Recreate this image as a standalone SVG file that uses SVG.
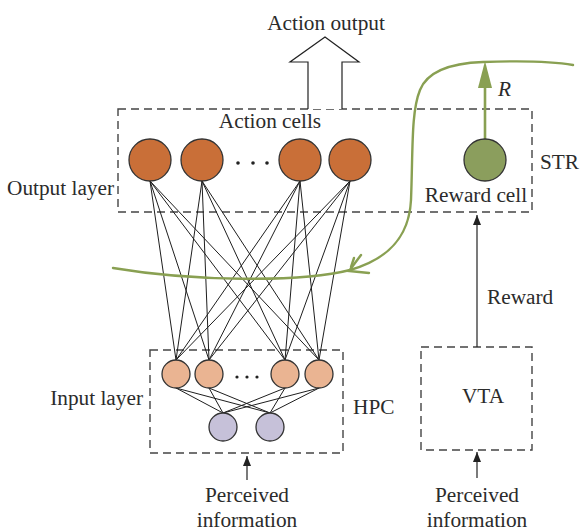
<svg xmlns="http://www.w3.org/2000/svg" width="580" height="531" viewBox="0 0 580 531">
  <style>
    text { font-family: "Liberation Serif", "Times New Roman", serif; font-size: 21.3px; fill: #2b2b2b; }
    .mid { text-anchor: middle; }
    .end { text-anchor: end; }
    .box { fill: none; stroke: #444; stroke-width: 1.4; stroke-dasharray: 8 5; }
    .link { stroke: #1e1e1e; stroke-width: 1; fill: none; }
    .cell { stroke: #333; stroke-width: 1.3; }
    .action { fill: #c96f38; }
    .input { fill: #eab492; }
    .sensor { fill: #c6c1d9; }
    .reward { fill: #8b9e5d; }
    .dot { fill: #222; }
    .arrow { stroke: #222; stroke-width: 1.2; fill: none; }
    .green { stroke: #89a052; stroke-width: 2.4; fill: none; stroke-linecap: round; }
  </style>
  <defs>
    <marker id="tip" viewBox="0 0 10 10" refX="10" refY="5" markerWidth="10" markerHeight="10" markerUnits="userSpaceOnUse" orient="auto">
      <path d="M0,1 L10,5 L0,9 Z" fill="#222"/>
    </marker>
  </defs>

  <!-- regions -->
  <g id="str-region">
    <rect class="box" x="118" y="109" width="414" height="103"/>
    <text x="540" y="169">STR</text>
    <text x="7" y="195">Output layer</text>
  </g>
  <g id="hpc-region">
    <rect class="box" x="150" y="350" width="193" height="103"/>
    <text x="143" y="405" class="end">Input layer</text>
    <text x="353" y="414">HPC</text>
  </g>
  <g id="vta">
    <rect class="box" x="421" y="347" width="111" height="103"/>
    <text x="483" y="403" class="mid">VTA</text>
  </g>

  <!-- connectors -->
  <g id="connectors">
    <!-- input layer to action cells -->
    <g class="link">
      <path d="M150,181 L176,360 M150,181 L209,360 M150,181 L285,360 M150,181 L319,360"/>
      <path d="M202,181 L176,360 M202,181 L209,360 M202,181 L285,360 M202,181 L319,360"/>
      <path d="M300,181 L176,360 M300,181 L209,360 M300,181 L285,360 M300,181 L319,360"/>
      <path d="M350,181 L176,360 M350,181 L209,360 M350,181 L285,360 M350,181 L319,360"/>
      <!-- sensory cells to input layer -->
      <path d="M223,413 L176,388 M223,413 L209,388 M223,413 L285,388 M223,413 L319,388"/>
      <path d="M270,413 L176,388 M270,413 L209,388 M270,413 L285,388 M270,413 L319,388"/>
    </g>
    <!-- reward signal VTA -> reward cell -->
    <line class="arrow" x1="477" y1="347" x2="477" y2="215" marker-end="url(#tip)"/>
    <text x="487" y="304">Reward</text>
    <!-- perceived information inputs -->
    <line class="arrow" x1="247" y1="480" x2="247" y2="456" marker-end="url(#tip)"/>
    <line class="arrow" x1="477" y1="478" x2="477" y2="452" marker-end="url(#tip)"/>
    <!-- action output arrow -->
    <polyline points="308,109 308,62 290,62 325,37 359,62 342,62 342,109" fill="#fff" stroke="#222" stroke-width="1.2"/>
    <text x="326" y="30" class="mid">Action output</text>
    <!-- reinforcement signal R -->
    <line x1="485" y1="139" x2="485" y2="86" stroke="#89a052" stroke-width="2.6"/>
    <path d="M485,61 L492,88 L478,88 Z" fill="#89a052"/>
    <text x="498" y="96" font-style="italic">R</text>
    <!-- feedback loop curve -->
    <path class="green" d="M573,65 C545,60 510,61 483,62 C455,63 428,70 420,90 C411,112 413,150 411,200 C409,240 385,260 350,270 C300,283 190,281 113,268"/>
    <path class="green" d="M361,255 L349,271 L369,273"/>
    <path class="green" d="M354,258 L351,267"/>
  </g>

  <!-- action cells -->
  <g id="action-cells">
    <text x="270" y="128" class="mid">Action cells</text>
    <circle class="cell action" cx="150" cy="160" r="21"/>
    <circle class="cell action" cx="202" cy="160" r="21"/>
    <circle class="cell action" cx="300" cy="160" r="21"/>
    <circle class="cell action" cx="350" cy="160" r="21"/>
    <circle class="dot" cx="238" cy="163" r="1.8"/>
    <circle class="dot" cx="253" cy="163" r="1.8"/>
    <circle class="dot" cx="267" cy="163" r="1.8"/>
  </g>

  <!-- reward cell -->
  <g id="reward-cell">
    <circle class="cell reward" cx="485" cy="160" r="21"/>
    <text x="476" y="202" class="mid">Reward cell</text>
  </g>

  <!-- input layer cells -->
  <g id="input-cells">
    <circle class="cell input" cx="176" cy="374" r="14"/>
    <circle class="cell input" cx="209" cy="374" r="14"/>
    <circle class="cell input" cx="285" cy="374" r="14"/>
    <circle class="cell input" cx="319" cy="374" r="14"/>
    <circle class="dot" cx="237" cy="377" r="1.6"/>
    <circle class="dot" cx="247" cy="377" r="1.6"/>
    <circle class="dot" cx="257" cy="377" r="1.6"/>
  </g>

  <!-- sensory cells -->
  <g id="sensory-cells">
    <circle class="cell sensor" cx="223" cy="427" r="14"/>
    <circle class="cell sensor" cx="270" cy="427" r="14"/>
  </g>

  <!-- input labels -->
  <g id="hpc-input-label">
    <text x="247" y="502" class="mid">Perceived</text>
    <text x="247" y="527" class="mid">information</text>
  </g>
  <g id="vta-input-label">
    <text x="477" y="502" class="mid">Perceived</text>
    <text x="477" y="527" class="mid">information</text>
  </g>
</svg>
